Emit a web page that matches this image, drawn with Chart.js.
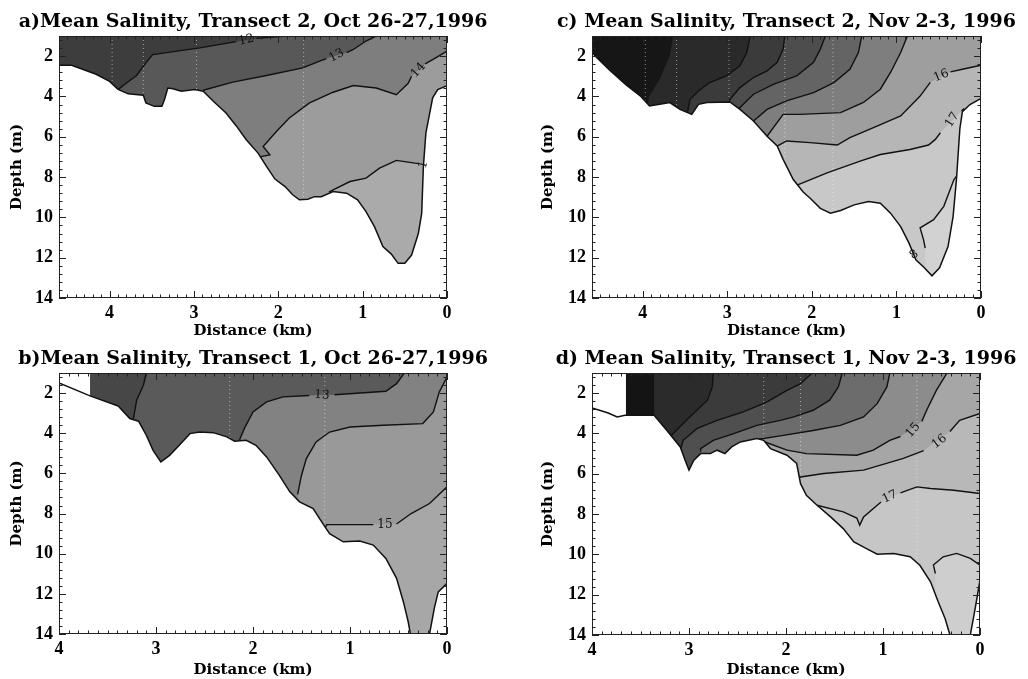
<!DOCTYPE html>
<html>
<head>
<meta charset="utf-8">
<script src="https://cdn.jsdelivr.net/npm/chart.js@4.4.1/dist/chart.umd.min.js"></script>
<style>
  body { margin: 0; background: #fff; }
  #fig { position: relative; width: 1028px; height: 679px; overflow: hidden; }
  canvas { position: absolute; }
</style>
</head>
<body>
<div id="fig">
  <canvas id="pa" width="514" height="342" style="left:0;top:0"></canvas>
  <canvas id="pc" width="514" height="342" style="left:514px;top:0"></canvas>
  <canvas id="pb" width="514" height="344" style="left:0;top:335px"></canvas>
  <canvas id="pd" width="514" height="344" style="left:514px;top:335px"></canvas>
</div>
<script>
// ticks (km, m)
const distTicks = [0, 1, 2, 3, 4];
const depthTicks = [2, 4, 6, 8, 10, 12, 14];

// ---- a) Transect 2, Oct 26-27 : bottom profile [km, m] and contours
const bottomA = [[4.6,2.45],[4.45,2.45],[4.16,2.9],[4.0,3.25],[3.9,3.65],[3.78,3.87],[3.6,3.94],[3.57,4.32],[3.47,4.49],[3.38,4.49],[3.35,4.16],[3.31,3.58],[3.25,3.62],[3.15,3.74],[2.99,3.66],[2.89,3.74],[2.77,4.24],[2.62,4.82],[2.5,5.45],[2.38,6.15],[2.24,6.81],[2.14,7.47],[2.04,8.1],[1.92,8.47],[1.83,8.88],[1.75,9.13],[1.65,9.1],[1.57,8.97],[1.49,8.97],[1.35,8.72],[1.19,8.8],[1.06,9.13],[0.96,9.71],[0.86,10.46],[0.76,11.45],[0.66,11.82],[0.58,12.28],[0.5,12.28],[0.42,11.87],[0.34,10.8],[0.3,9.8],[0.28,7.47],[0.25,5.8],[0.17,4.07],[0.11,3.66],[0,3.46]];
const s12A = [[3.9,3.66],[3.8,3.33],[3.68,2.96],[3.57,2.33],[3.49,1.92],[3.2,1.75],[2.93,1.59],[2.5,1.28],null,[2.26,1.12],[1.9,1.0]];
const s13A = [[2.89,3.69],[2.54,3.29],[2.14,2.96],[1.71,2.58],[1.51,2.25],[1.43,2.12],null,[1.19,1.82],[1.11,1.67],[0.96,1.25],[0.84,1.0]];
const s14A = [[2.22,7.0],[2.1,6.9],[2.18,6.48],[2.02,5.73],[1.87,5.07],[1.63,4.32],[1.35,3.79],[1.11,3.46],[0.84,3.58],[0.6,3.91],[0.46,3.35],[0.42,3.0],null,[0.26,2.38],[0.17,2.17],[0,1.75]];
const s15A = [[1.4,8.75],[1.35,8.63],[1.15,8.22],[0.96,8.05],[0.8,7.56],[0.6,7.17],[0.38,7.31],[0.33,7.33]];
const labelsA = [['12',2.38,1.2,-12],['13',1.31,1.97,-28],['14',0.34,2.7,-48],['1',0.28,7.39,-75]];
const stationsA = [3.97, 3.6, 2.97, 1.7];

// ---- b) Transect 1, Oct 26-27
const bottomB = [[4.0,1.5],[3.68,2.14],[3.39,2.64],[3.27,3.27],[3.18,3.4],[3.1,4.1],[3.03,4.85],[2.95,5.43],[2.86,5.1],[2.76,4.6],[2.65,4.02],[2.55,3.94],[2.41,3.97],[2.27,4.18],[2.19,4.4],[2.07,4.35],[1.97,4.6],[1.86,5.18],[1.73,6.09],[1.62,6.92],[1.52,7.42],[1.38,7.75],[1.28,8.5],[1.21,9.0],[1.07,9.41],[0.9,9.37],[0.76,9.57],[0.63,10.24],[0.52,11.23],[0.45,12.39],[0.4,13.39],[0.37,14.2],[0.34,15],[0.22,15],[0.18,14],[0.13,12.7],[0.09,11.9],[0,11.48]];
const s1B = [[3.24,3.47],[3.23,3.19],[3.2,2.36],[3.13,1.61],[3.1,1.0]];
const s13B = [[2.14,4.35],[2.09,3.77],[2.0,2.94],[1.86,2.44],[1.69,2.19],[1.42,2.12],null,[1.16,2.08],[0.63,1.91],[0.52,1.53],[0.44,1.0]];
const s14B = [[1.54,7.05],[1.5,6.09],[1.45,5.26],[1.35,4.43],[1.21,3.94],[1.0,3.69],[0.66,3.6],[0.25,3.52],[0.14,2.94],[0.08,1.95],[0,1.2]];
const s15B = [[1.26,8.75],[1.24,8.55],[1.18,8.55],[0.97,8.55],[0.76,8.55],null,[0.52,8.52],[0.37,8.0],[0.18,7.5],[0,6.67]];
const labelsB = [['13',1.29,2.1,4],['15',0.64,8.58,0]];
const stationsB = [2.24, 1.26];

// ---- c) Transect 2, Nov 2-3
const bottomC = [[4.62,1.7],[4.56,2.0],[4.4,2.66],[4.2,3.41],[4.03,3.97],[3.92,4.47],[3.8,4.39],[3.68,4.3],[3.56,4.64],[3.42,4.89],[3.38,4.64],[3.34,4.39],[3.24,4.3],[2.97,4.27],[2.85,4.64],[2.69,5.22],[2.53,5.97],[2.41,6.46],[2.34,7.12],[2.22,8.12],[2.1,8.75],[2.02,9.05],[1.9,9.55],[1.78,9.79],[1.66,9.66],[1.5,9.38],[1.33,9.21],[1.19,9.3],[1.07,9.79],[0.95,10.46],[0.85,11.29],[0.77,12.1],[0.67,12.5],[0.58,12.9],[0.49,12.5],[0.39,11.45],[0.33,9.96],[0.29,8.1],[0.25,5.6],[0.22,4.75],[0.13,4.4],[0,4.1]];
const s0C = [[3.95,4.5],[3.92,3.97],[3.8,3.14],[3.68,1.99],[3.64,1.0]];
const s1C = [[3.47,4.75],[3.44,4.14],[3.34,3.73],[3.21,3.31],[3.01,2.98],[2.85,2.48],[2.77,1.82],[2.73,1.0]];
const s2C = [[3.0,4.35],[2.95,4.05],[2.85,3.56],[2.69,3.06],[2.53,2.73],[2.41,2.31],[2.34,1.65],[2.32,1.0]];
const s3C = [[2.87,4.7],[2.85,4.55],[2.69,3.89],[2.45,3.39],[2.18,2.98],[1.98,2.31],[1.9,1.65],[1.84,1.0]];
const s4C = [[2.71,5.3],[2.69,5.22],[2.53,4.64],[2.3,4.22],[1.98,3.81],[1.74,3.31],[1.55,2.65],[1.45,1.82],[1.41,1.0]];
const s5C = [[2.55,6.05],[2.53,5.97],[2.34,4.89],[2.14,4.89],[1.66,4.8],[1.39,4.3],[1.19,3.64],[1.07,2.81],[0.95,1.82],[0.87,1.0]];
const s16C = [[2.43,6.55],[2.41,6.46],[2.3,6.21],[2.02,6.29],[1.7,6.41],[1.55,6.04],[1.23,5.47],[0.95,4.97],[0.72,3.98],[0.6,3.3],null,[0.36,2.78],[0.22,2.65],[0,2.45]];
const s17C = [[2.18,8.45],[2.16,8.37],[1.82,7.79],[1.43,7.21],[1.19,6.88],[0.84,6.63],[0.62,6.41],[0.54,6.13],[0.48,5.8],null,[0.23,4.72],[0.2,4.6]];
const s18C = [[0.66,11.52],[0.68,11.1],[0.72,10.52],[0.56,10.11],[0.44,9.45],[0.32,8.12],[0.28,7.9]];
const labelsC = [['16',0.47,2.97,-22],['17',0.34,5.16,-58],['8',0.79,11.85,-35]];
const stationsC = [3.97, 3.6, 2.98, 2.32, 1.75];

// ---- d) Transect 1, Nov 2-3
const bottomD = [[4.0,2.74],[3.84,2.97],[3.74,3.18],[3.66,3.1],[3.36,3.1],[3.23,3.84],[3.09,4.67],[3.04,5.33],[3.0,5.82],[2.95,5.33],[2.88,5.0],[2.78,5.0],[2.71,4.83],[2.63,5.0],[2.56,4.67],[2.47,4.42],[2.3,4.25],[2.23,4.34],[2.16,4.75],[1.99,5.08],[1.89,5.49],[1.85,6.49],[1.79,7.07],[1.68,7.56],[1.54,8.14],[1.41,8.72],[1.3,9.38],[1.17,9.71],[1.06,9.99],[0.89,9.96],[0.72,10.12],[0.62,10.54],[0.51,11.36],[0.43,12.36],[0.36,13.18],[0.31,14.0],[0.29,15],[0.12,15],[0.1,14.0],[0.05,12.69],[0,11.28]];
const s0D = [[3.36,3.1],[3.36,1.0]];
const sAD = [[3.18,4.2],[3.18,4.09],[3.06,3.51],[2.92,2.85],[2.81,2.35],[2.76,1.69],[2.75,1.0]];
const sBD = [[3.09,4.83],[3.06,4.34],[2.92,3.76],[2.71,3.35],[2.44,2.93],[2.2,2.44],[1.99,1.86],[1.85,1.53],[1.73,1.0]];
const sCD = [[2.88,4.9],[2.88,4.75],[2.75,4.34],[2.54,4.01],[2.3,3.6],[2.06,3.35],[1.92,3.18],[1.72,2.85],[1.55,2.35],[1.46,1.69],[1.42,1.0]];
const sDD = [[2.47,4.5],[2.3,4.3],[2.06,4.12],[1.72,3.85],[1.44,3.6],[1.2,3.18],[1.06,2.52],[0.96,1.69],[0.93,1.0]];
const s15D = [[2.23,4.4],[1.99,4.83],[1.79,5.0],[1.27,5.08],[1.1,4.83],[0.93,4.34],[0.82,4.15],null,[0.6,3.4],[0.55,2.85],[0.45,1.86],[0.34,1.0]];
const s16D = [[1.9,6.3],[1.85,6.16],[1.61,5.99],[1.2,5.82],[0.79,5.24],[0.58,4.85],null,[0.31,3.9],[0.21,3.35],[0,3.01]];
const s17D = [[1.72,7.6],[1.68,7.56],[1.41,7.89],[1.27,8.2],[1.24,8.55],[1.2,8.14],[1.06,7.56],[1.02,7.4],null,[0.82,6.95],[0.75,6.82],[0.65,6.65],[0.51,6.73],[0.27,6.82],[0,6.98]];
const s18D = [[0.46,10.95],[0.48,10.53],[0.38,10.12],[0.24,9.95],[0.1,10.2],[0,10.53]];
const labelsD = [['15',0.69,3.84,-50],['16',0.42,4.4,-38],['17',0.93,7.15,-25]];
const stationsD = [2.23, 1.85, 0.65];

const panels = [
  { id: 'pa', title: 'a)Mean Salinity, Transect 2, Oct 26-27,1996', xmax: 4.6, bottom: bottomA,
    edges: [[[4.6,14],[4.6,1]], s12A, s13A, s14A, s15A],
    shades: ['#3d3d3d','#585858','#7e7e7e','#9c9c9c','#aaaaaa'],
    lines: [s12A, s13A, s14A, s15A], labels: labelsA, stations: stationsA,
    box: { yw: 59, right: 67, top: 36, xh: 44, ytp: 8, xtt: 2, xtp: 5 } },
  { id: 'pc', title: 'c) Mean Salinity, Transect 2, Nov 2-3, 1996', xmax: 4.6, bottom: bottomC,
    edges: [[[4.6,14],[4.6,1]], s0C, s1C, s2C, s3C, s4C, s5C, s16C, s17C, s18C],
    shades: ['#161616','#2a2a2a','#3b3b3b','#4d4d4d','#646464','#7e7e7e','#9e9e9e','#b6b6b6','#c8c8c8','#d2d2d2'],
    lines: [s1C, s2C, s3C, s4C, s5C, s16C, s17C, s18C], labels: labelsC, stations: stationsC,
    box: { yw: 78, right: 47, top: 36, xh: 44, ytp: 25, xtt: 2, xtp: 5 } },
  { id: 'pb', title: 'b)Mean Salinity, Transect 1, Oct 26-27,1996', xmax: 4, bottom: bottomB,
    edges: [[[3.68,14],[3.68,1]], s1B, s13B, s14B, s15B],
    shades: ['#474747','#5a5a5a','#828282','#999999','#a7a7a7'],
    lines: [s1B, s13B, s14B, s15B], labels: labelsB, stations: stationsB,
    box: { yw: 59, right: 67, top: 38, xh: 45, ytp: 8, xtt: 0, xtp: 5 } },
  { id: 'pd', title: 'd) Mean Salinity, Transect 1, Nov 2-3, 1996', xmax: 4, bottom: bottomD,
    edges: [[[3.65,14],[3.65,1]], s0D, sAD, sBD, sCD, sDD, s15D, s16D, s17D, s18D],
    shades: ['#141414','#2b2b2b','#3b3b3b','#4f4f4f','#6c6c6c','#8c8c8c','#a6a6a6','#b8b8b8','#c6c6c6','#cecece'],
    lines: [sAD, sBD, sCD, sDD, s15D, s16D, s17D, s18D], labels: labelsD, stations: stationsD,
    box: { yw: 78, right: 48, top: 38, xh: 44, ytp: 25, xtt: 0, xtp: 5 } }
];

const toPts = arr => arr.map(p => p ? {x: p[0], y: p[1]} : {x: null, y: null});

// closed region "saltier than this contour": runs along the floor, up the contour, out to x=0
function bandPoints(edge, xmax) {
  const p = edge.filter(Boolean);
  const last = p[p.length - 1];
  const out = [[xmax, 14], [p[0][0], 14], ...p];
  if (last[0] > 0) out.push([0, last[1] <= 1 ? 1 : last[1]]);
  return toPts(out);
}

const serif = 'DejaVu Serif';
const tickFont = {family: 'Liberation Serif', weight: 'bold', size: 18};
const axisFont = {family: serif, weight: 'bold', size: 15};

const framePlugin = {
  id: 'frame',
  afterDatasetsDraw(chart) {
    const {ctx, chartArea: a, scales: {x, y}} = chart;
    ctx.save();
    ctx.strokeStyle = '#222';
    ctx.lineWidth = 1;
    ctx.strokeRect(a.left + 0.5, a.top + 0.5, a.width - 1, a.height - 1);
    ctx.beginPath();
    for (let i = 0; i <= Math.round(x.max * 10); i++) {
      const px = Math.round(x.getPixelForValue(i / 10)) + 0.5;
      const len = i % 10 === 0 ? 7 : 3.5;
      ctx.moveTo(px, a.bottom); ctx.lineTo(px, a.bottom - len);
      ctx.moveTo(px, a.top); ctx.lineTo(px, a.top + len);
    }
    for (let k = -2; k <= 30; k++) {
      const v = 2 + 0.4 * k;
      if (v < 1 || v > 14.001) continue;
      const py = Math.round(y.getPixelForValue(v)) + 0.5;
      const len = k % 5 === 0 ? 7 : 3.5;
      ctx.moveTo(a.left, py); ctx.lineTo(a.left + len, py);
      ctx.moveTo(a.right, py); ctx.lineTo(a.right - len, py);
    }
    ctx.stroke();
    ctx.restore();
  }
};

const labelPlugin = labels => ({
  id: 'contourLabels',
  afterDatasetsDraw(chart) {
    const {ctx, scales: {x, y}} = chart;
    ctx.save();
    ctx.font = '12px "' + serif + '"';
    ctx.fillStyle = '#111';
    ctx.textAlign = 'center';
    ctx.textBaseline = 'middle';
    labels.forEach(([t, vx, vy, ang]) => {
      ctx.save();
      ctx.translate(x.getPixelForValue(vx), y.getPixelForValue(vy));
      ctx.rotate(ang * Math.PI / 180);
      ctx.fillText(t, 0, 0);
      ctx.restore();
    });
    ctx.restore();
  }
});

const titlePlugin = text => ({
  id: 'panelTitle',
  afterDraw(chart) {
    const {ctx, chartArea: a} = chart;
    ctx.save();
    ctx.font = 'bold 19px "' + serif + '"';
    ctx.fillStyle = '#000';
    ctx.textAlign = 'center';
    ctx.textBaseline = 'alphabetic';
    ctx.fillText(text, (a.left + a.right) / 2, a.top - 9);
    ctx.restore();
  }
});

function makePanel(p) {
  const datasets = [];
  p.edges.forEach((e, i) => datasets.push({
    data: bandPoints(e, p.xmax), showLine: true, borderWidth: 0, borderColor: 'rgba(0,0,0,0)',
    pointRadius: 0, backgroundColor: p.shades[i], fill: {value: 14}, order: 100 - i, clip: 0
  }));
  p.stations.forEach(s => datasets.push({
    data: [{x: s, y: 1}, {x: s, y: 14}], showLine: true, borderColor: 'rgba(255,255,255,0.5)',
    borderWidth: 1, borderDash: [1, 3], pointRadius: 0, fill: false, order: 60, clip: 0
  }));
  p.lines.forEach(l => datasets.push({
    data: toPts(l), showLine: true, borderColor: '#111', borderWidth: 1.4,
    pointRadius: 0, fill: false, spanGaps: false, order: 50, clip: 0
  }));
  datasets.push({
    data: toPts(p.bottom), showLine: true, borderColor: '#111', borderWidth: 1.5,
    backgroundColor: '#fff', fill: {value: 14}, pointRadius: 0, order: 10, clip: 0
  });

  const b = p.box;
  new Chart(document.getElementById(p.id), {
    type: 'scatter',
    data: {datasets},
    options: {
      responsive: false,
      animation: false,
      events: [],
      layout: {padding: {left: 0, right: b.right, top: b.top, bottom: 0}},
      plugins: {legend: {display: false}, tooltip: {enabled: false}},
      scales: {
        x: {
          type: 'linear', reverse: true, min: 0, max: p.xmax,
          afterBuildTicks: s => { s.ticks = distTicks.map(v => ({value: v})); },
          afterFit: s => { s.height = b.xh; },
          grid: {display: false, drawTicks: false},
          border: {display: false},
          ticks: {color: '#000', padding: b.xtp, maxRotation: 0, font: tickFont},
          title: {display: true, text: 'Distance (km)', color: '#000', font: axisFont,
                  padding: {top: 0, bottom: b.xtt}}
        },
        y: {
          type: 'linear', reverse: true, min: 1, max: 14,
          afterBuildTicks: s => { s.ticks = depthTicks.map(v => ({value: v})); },
          afterFit: s => { s.width = b.yw; },
          grid: {display: false, drawTicks: false},
          border: {display: false},
          ticks: {color: '#000', padding: 6, font: tickFont},
          title: {display: true, text: 'Depth (m)', color: '#000', font: axisFont,
                  padding: {top: b.ytp, bottom: 0}}
        }
      }
    },
    plugins: [framePlugin, labelPlugin(p.labels), titlePlugin(p.title)]
  });
}

panels.forEach(makePanel);
</script>
</body>
</html>
